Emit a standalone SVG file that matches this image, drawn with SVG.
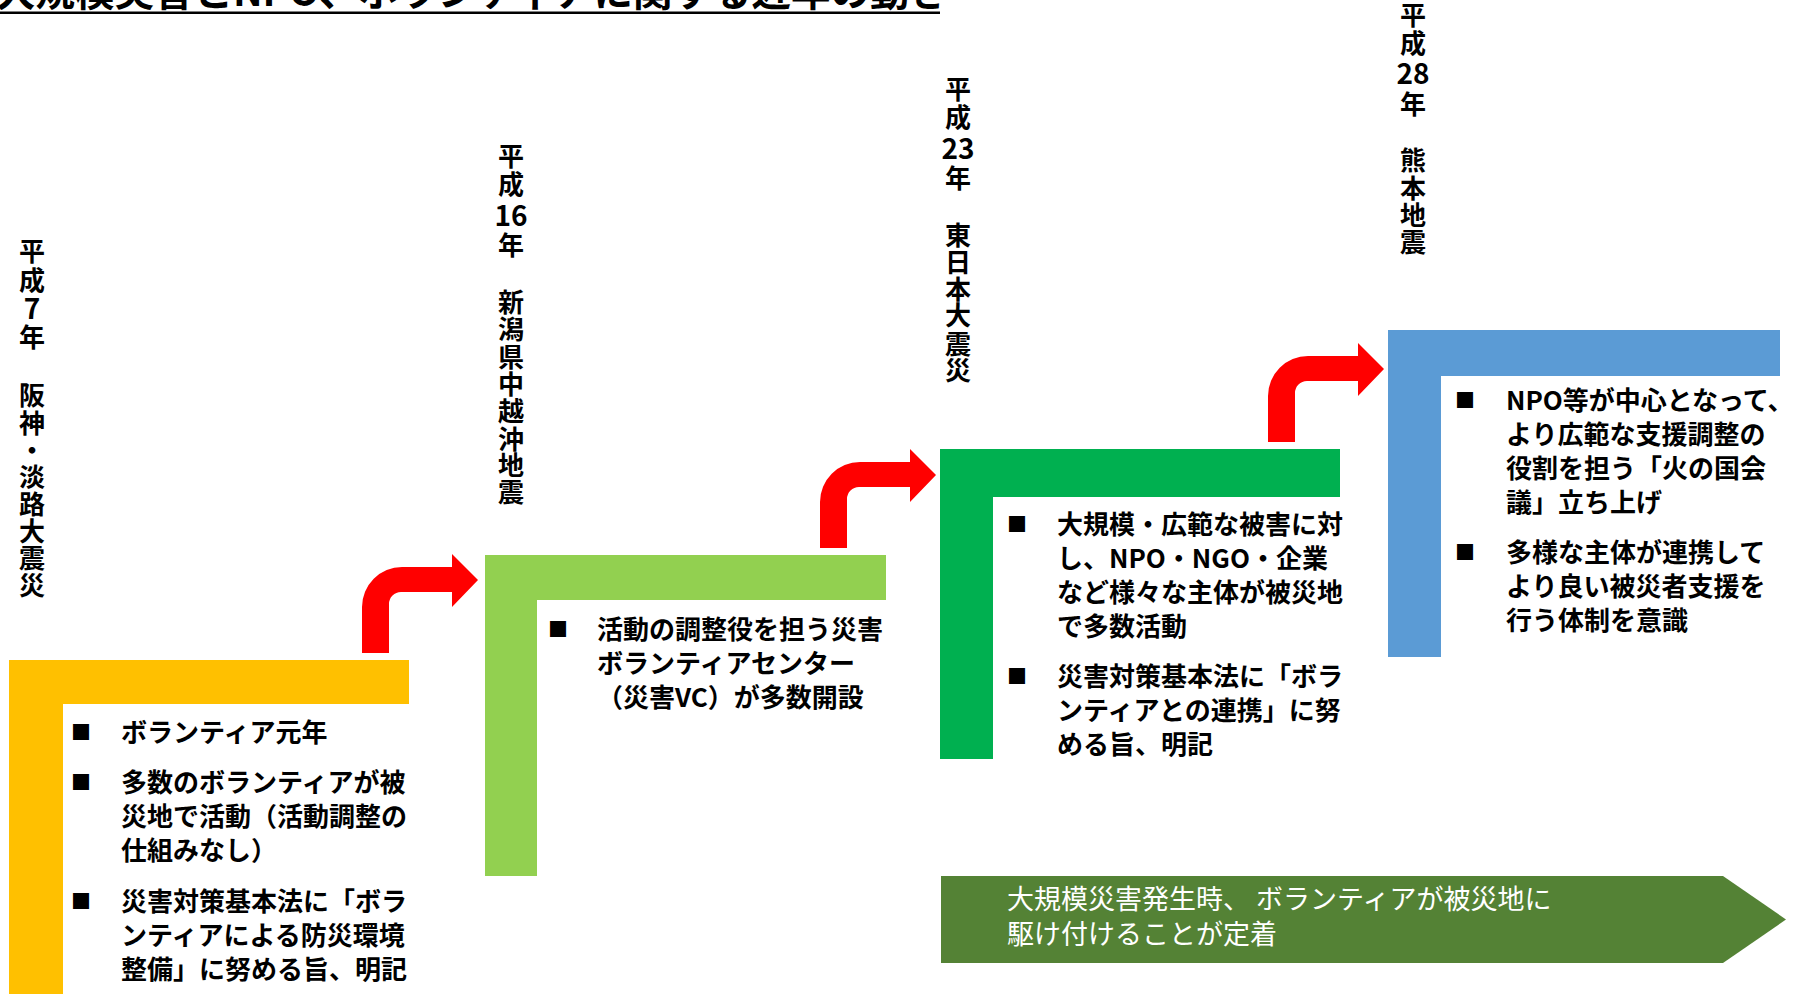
<svg xmlns="http://www.w3.org/2000/svg" width="1797" height="994" viewBox="0 0 1797 994">
<style>
text{font-family:"Noto Sans CJK JP","Noto Sans CJK SC",sans-serif;}
.title{font-size:39.5px;font-weight:bold;fill:#000;}
.lbl{font-size:26px;font-weight:bold;fill:#000;text-anchor:middle;}
.num{font-size:28px;}
.bt{font-size:26px;font-weight:bold;fill:#000;}
.sq{font-size:20px;}
.wt{font-size:27px;fill:#fff;}
.arrow{fill:#FF0000;}
</style>
<defs>
<path id="bend" d="M0,-7 V-53 A40,40 0 0 1 40,-93 H90 V-106 L116,-80 L90,-53 V-68 H39 A12,12 0 0 0 27,-56 V-7 Z"/>
</defs>
<rect width="1797" height="994" fill="#fff"/>
<g id="title">
<text class="title" x="-4" y="6">大規模災害とNPO、ボランティアに関する近年の動き</text>
<rect x="0" y="11.5" width="940" height="2.5" fill="#000"/>
</g>
<g id="node-h7">
<path d="M9,660 H409 V704 H63 V994 H9 Z" fill="#FFC000"/>
<text class="lbl"><tspan x="32" y="261">平</tspan><tspan x="32" y="290">成</tspan><tspan class="num" x="32" y="319">7</tspan><tspan x="32" y="347">年</tspan><tspan x="32" y="405">阪</tspan><tspan x="32" y="433">神</tspan><tspan x="32" y="460">・</tspan><tspan x="32" y="487">淡</tspan><tspan x="32" y="514">路</tspan><tspan x="32" y="541">大</tspan><tspan x="32" y="568">震</tspan><tspan x="32" y="595">災</tspan></text>
<text class="bt"><tspan class="sq" x="71" y="740">■</tspan><tspan x="121" y="742">ボランティア元年</tspan></text>
<text class="bt"><tspan class="sq" x="71" y="790">■</tspan><tspan x="121" y="792">多数のボランティアが被</tspan><tspan x="121" y="826">災地で活動（活動調整の</tspan><tspan x="121" y="860">仕組みなし）</tspan></text>
<text class="bt"><tspan class="sq" x="71" y="909">■</tspan><tspan x="121" y="911">災害対策基本法に「ボラ</tspan><tspan x="121" y="945">ンティアによる防災環境</tspan><tspan x="121" y="979">整備」に努める旨、明記</tspan></text>
</g>
<g id="node-h16">
<path d="M485,555 H886 V600 H537 V876 H485 Z" fill="#92D050"/>
<text class="lbl"><tspan x="511" y="166">平</tspan><tspan x="511" y="194">成</tspan><tspan class="num" x="511" y="226">16</tspan><tspan x="511" y="255">年</tspan><tspan x="511" y="312">新</tspan><tspan x="511" y="339">潟</tspan><tspan x="511" y="367">県</tspan><tspan x="511" y="394">中</tspan><tspan x="511" y="421">越</tspan><tspan x="511" y="449">沖</tspan><tspan x="511" y="475">地</tspan><tspan x="511" y="502">震</tspan></text>
<text class="bt"><tspan class="sq" x="548" y="637">■</tspan><tspan x="597" y="639">活動の調整役を担う災害</tspan><tspan x="597" y="673">ボランティアセンター</tspan><tspan x="597" y="707">（災害VC）が多数開設</tspan></text>
</g>
<g id="node-h23">
<path d="M940,449 H1340 V497 H993 V759 H940 Z" fill="#00B050"/>
<text class="lbl"><tspan x="958" y="99">平</tspan><tspan x="958" y="127">成</tspan><tspan class="num" x="958" y="159">23</tspan><tspan x="958" y="188">年</tspan><tspan x="958" y="245">東</tspan><tspan x="958" y="272">日</tspan><tspan x="958" y="299">本</tspan><tspan x="958" y="325">大</tspan><tspan x="958" y="354">震</tspan><tspan x="958" y="380">災</tspan></text>
<text class="bt"><tspan class="sq" x="1007" y="532">■</tspan><tspan x="1057" y="534">大規模・広範な被害に対</tspan><tspan x="1057" y="568">し、NPO・NGO・企業</tspan><tspan x="1057" y="602">など様々な主体が被災地</tspan><tspan x="1057" y="636">で多数活動</tspan></text>
<text class="bt"><tspan class="sq" x="1007" y="684">■</tspan><tspan x="1057" y="686">災害対策基本法に「ボラ</tspan><tspan x="1057" y="720">ンティアとの連携」に努</tspan><tspan x="1057" y="754">める旨、明記</tspan></text>
</g>
<g id="node-h28">
<path d="M1388,330 H1780 V376 H1441 V657 H1388 Z" fill="#5B9BD5"/>
<text class="lbl"><tspan x="1413" y="25">平</tspan><tspan x="1413" y="53">成</tspan><tspan class="num" x="1413" y="84">28</tspan><tspan x="1413" y="114">年</tspan><tspan x="1413" y="170">熊</tspan><tspan x="1413" y="198">本</tspan><tspan x="1413" y="225">地</tspan><tspan x="1413" y="252">震</tspan></text>
<text class="bt"><tspan class="sq" x="1455" y="408">■</tspan><tspan x="1506" y="410">NPO等が中心となって、</tspan><tspan x="1506" y="444">より広範な支援調整の</tspan><tspan x="1506" y="478">役割を担う「火の国会</tspan><tspan x="1506" y="512">議」立ち上げ</tspan></text>
<text class="bt"><tspan class="sq" x="1455" y="560">■</tspan><tspan x="1506" y="562">多様な主体が連携して</tspan><tspan x="1506" y="596">より良い被災者支援を</tspan><tspan x="1506" y="630">行う体制を意識</tspan></text>
</g>
<g id="node-summary">
<path d="M941,876 H1723 L1786,919.5 L1723,963 H941 Z" fill="#548235"/>
<text class="wt"><tspan x="1007" y="909">大規模災害発生時、 ボランティアが被災地に</tspan><tspan x="1007" y="944">駆け付けることが定着</tspan></text>
</g>
<g id="connectors">
<use href="#bend" class="arrow" x="362" y="660"/>
<use href="#bend" class="arrow" x="820" y="555"/>
<use href="#bend" class="arrow" x="1268" y="449"/>
</g>
</svg>
